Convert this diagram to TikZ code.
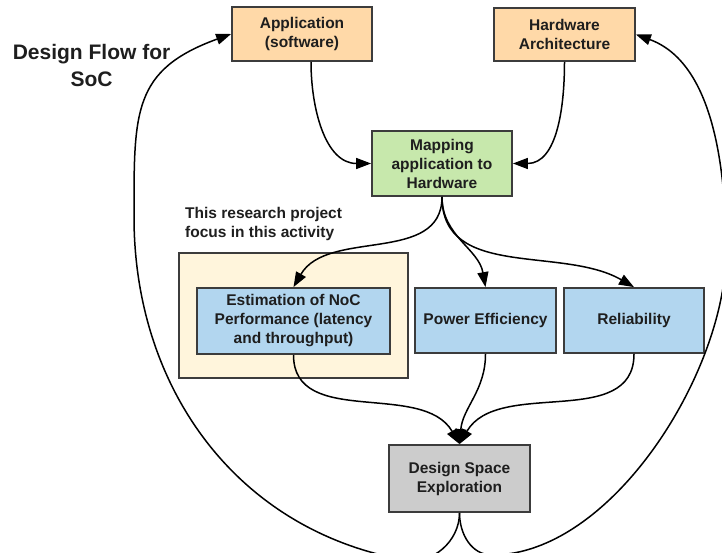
\documentclass[tikz,border=0pt]{standalone}
\usepackage{fontspec}
\setmainfont{Liberation Sans}
\usetikzlibrary{arrows.meta}
\definecolor{peach}{RGB}{255,217,168}
\definecolor{mint}{RGB}{199,232,172}
\definecolor{cream}{RGB}{255,245,220}
\definecolor{sky}{RGB}{178,214,239}
\definecolor{stone}{RGB}{204,204,204}
\definecolor{edge}{RGB}{60,60,60}
\definecolor{ink}{RGB}{30,30,30}
\begin{document}
\begin{tikzpicture}[x=1pt,y=1pt,
  box/.style={draw=edge, line width=1.8pt, inner sep=0pt, align=center, text=ink,
    font=\bfseries\fontsize{15.5}{19}\selectfont},
  flow/.style={line width=1.5pt, -{Triangle[length=15pt,width=11pt]}},
  headline/.style={text=ink, inner sep=0pt, font=\bfseries\fontsize{21}{27}\selectfont, align=center},
  remark/.style={text=ink, inner sep=0pt, font=\bfseries\fontsize{15.5}{19}\selectfont, align=left}]
\path[use as bounding box] (0,0) rectangle (722,552);
\clip (0,0) rectangle (722,552);

% inputs
\node[box, fill=peach, minimum width=140pt, minimum height=54pt] (app) at (302,518) {Application\\(software)};
\node[box, fill=peach, minimum width=141pt, minimum height=53pt] (hw) at (564.5,517.5) {Hardware\\Architecture};
% mapping step
\node[box, fill=mint, minimum width=140pt, minimum height=65pt] (map) at (442,388.5) {Mapping\\application to\\Hardware};
% highlighted activity
\node[box, fill=cream, minimum width=229pt, minimum height=125pt] (focus) at (293.5,236.5) {};
\node[box, fill=sky, minimum width=193pt, minimum height=66pt] (est) at (293.5,231) {Estimation of NoC\\Performance (latency\\and throughput)};
\node[box, fill=sky, minimum width=141pt, minimum height=65pt] (pow) at (485.5,231.5) {Power Efficiency};
\node[box, fill=sky, minimum width=140pt, minimum height=65pt] (rel) at (634,231.5) {Reliability};
% exploration
\node[box, fill=stone, minimum width=141pt, minimum height=67pt] (dse) at (459.5,73.5) {Design Space\\Exploration};

% captions
\node[headline] (title) at (91.5,486.5) {Design Flow for\\SoC};
\node[remark, anchor=west] (note) at (185,328.5) {This research project\\focus in this activity};

% forward flow
\coordinate (appout) at ([xshift=9pt]app.south);
\draw[flow] (appout) to[out=-90,in=180] (map.west);
\draw[flow] (hw.south) to[out=-90,in=0] (map.east);
\draw[flow] (map.south) to[out=-90,in=60] (est.north);
\draw[flow] (map.south) to[out=-90,in=100] (pow.north);
\draw[flow] (map.south) to[out=-90,in=150] (rel.north);
\draw[flow] (est.south) to[out=-90,in=120] (dse.north);
\draw[flow] (pow.south) to[out=-90,in=85] (dse.north);
\draw[flow] (rel.south) to[out=-90,in=60] (dse.north);

% feedback loops
\coordinate (dipL) at (405,-8);
\coordinate (sideL) at (134,335);
\coordinate (dipR) at (492,-3);
\coordinate (sideR) at (726,300);
\draw[flow] (dse.south) to[out=-90,in=-10] (dipL) to[out=170,in=-90] (sideL)
  to[out=90,in=200,looseness=1.3] (app.west);
\draw[flow] (dse.south) to[out=-90,in=180] (dipR) to[out=0,in=-90,looseness=0.8] (sideR)
  to[out=90,in=-20,looseness=0.9] (hw.east);
\end{tikzpicture}
\end{document}
